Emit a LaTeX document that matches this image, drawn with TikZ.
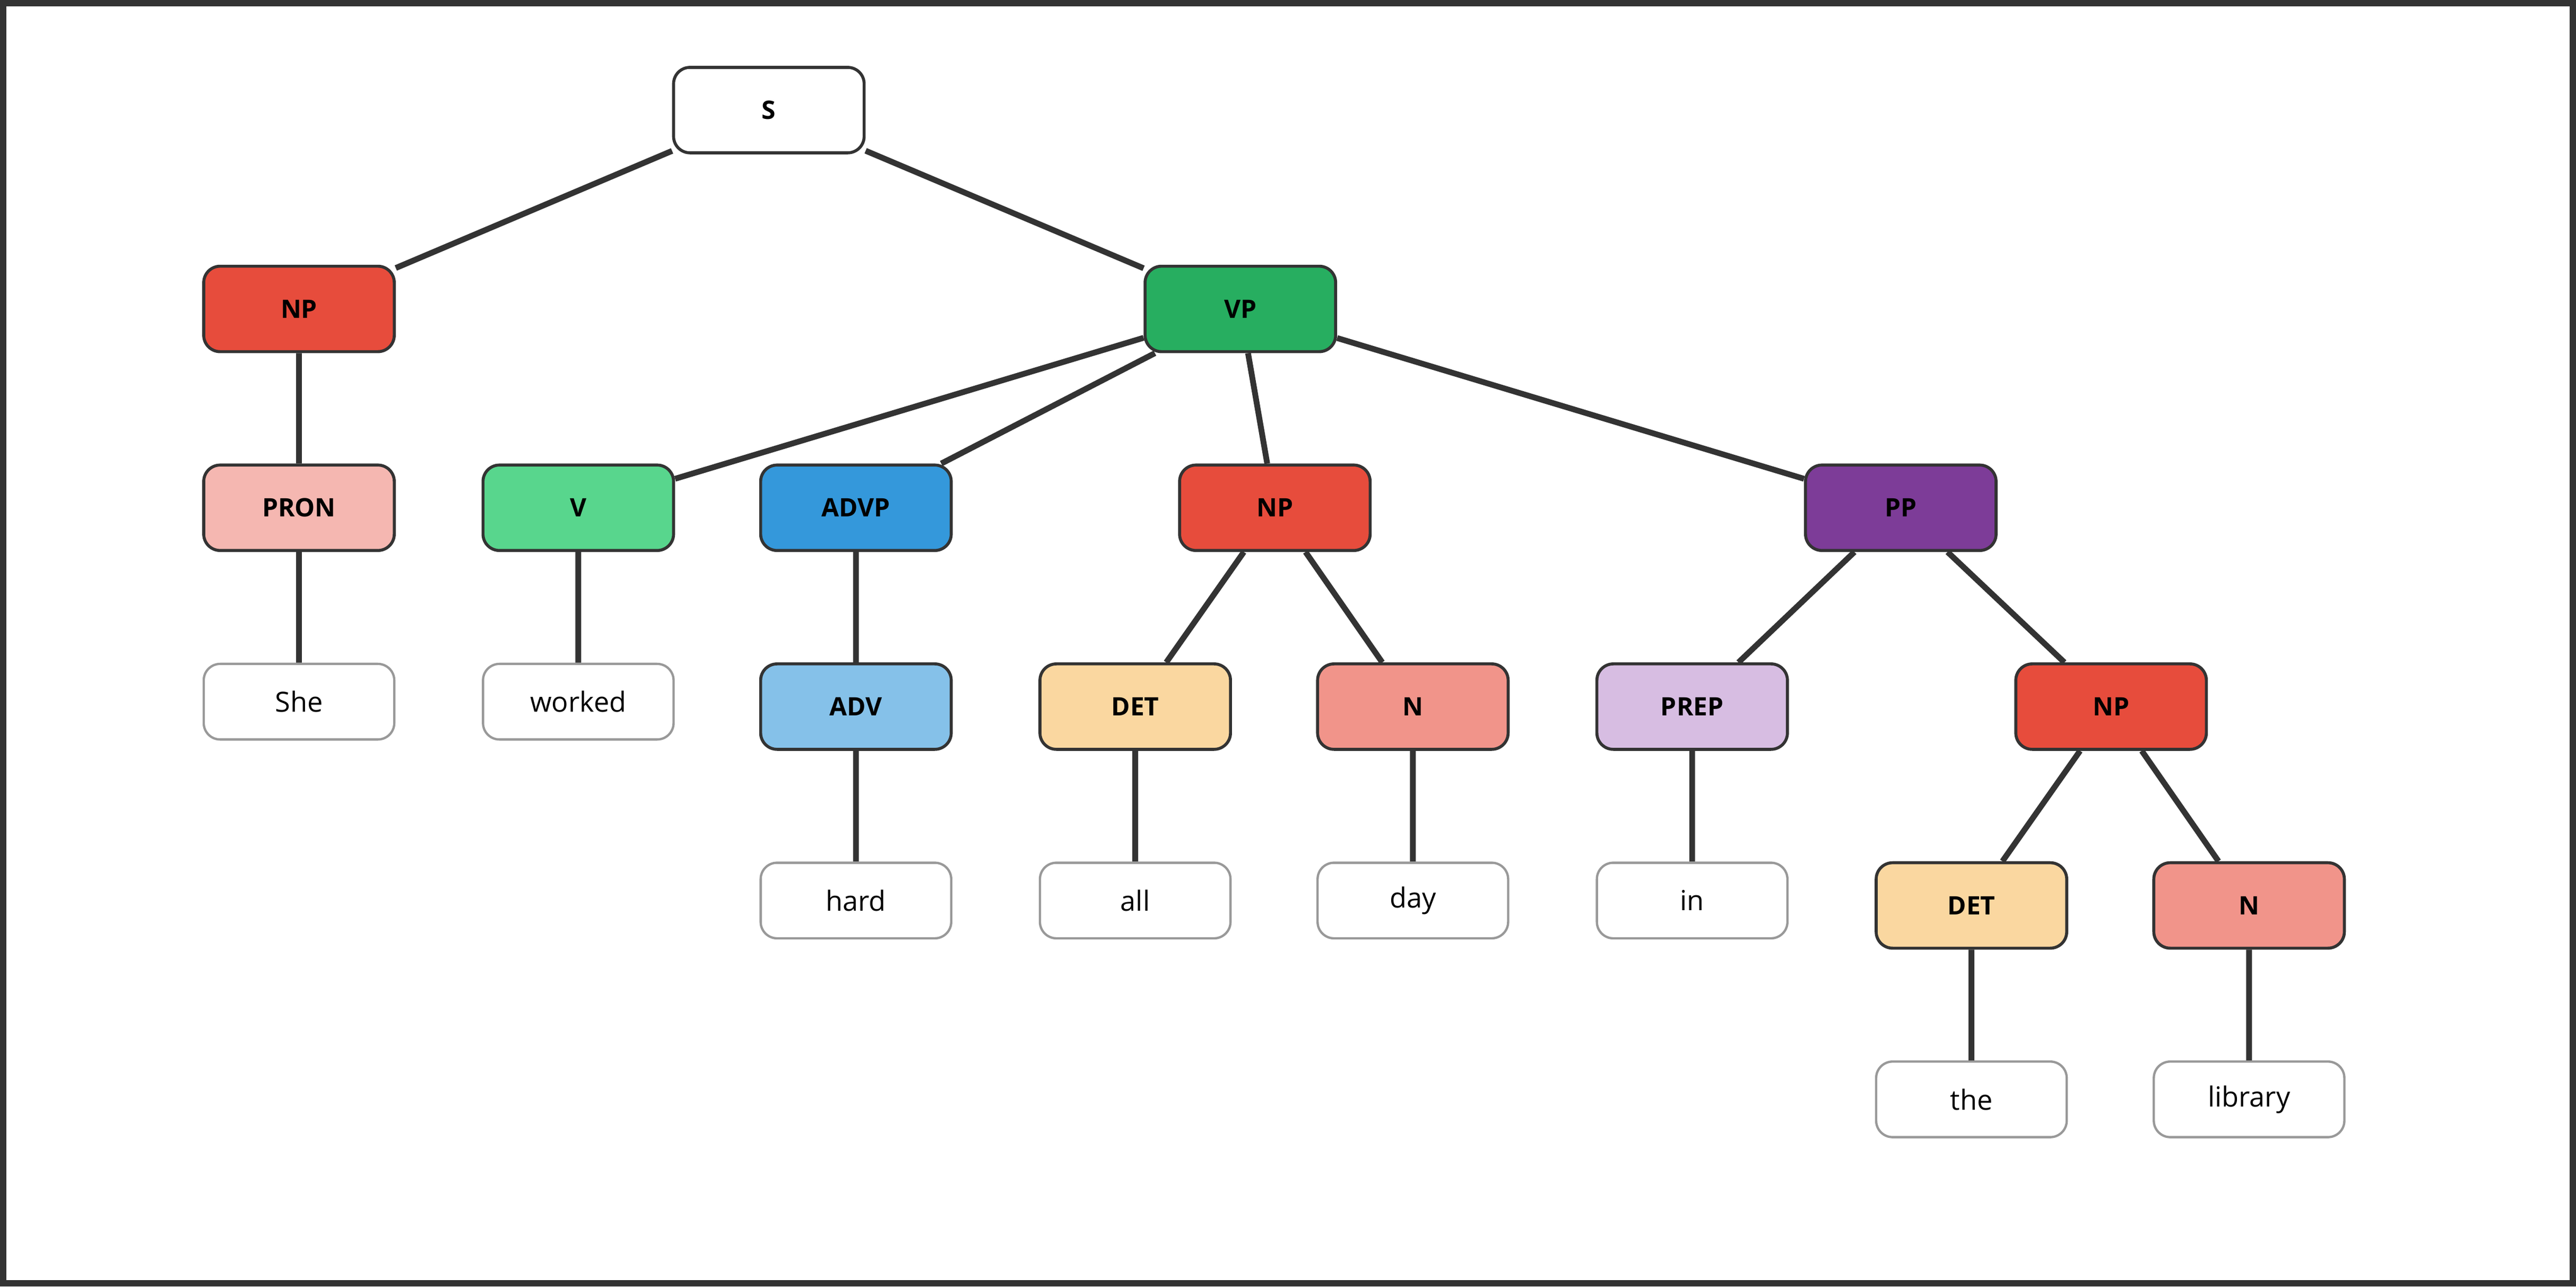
\documentclass[tikz,border=0pt]{standalone}
\usepackage{fontspec}
\setmainfont{Open Sans}
\begin{document}
\begin{tikzpicture}[x=0.05cm,y=-0.05cm,
 cat/.style={draw=black!80,line width=2.6pt,rounded corners=0.5cm,minimum width=5.8cm,minimum height=2.6cm,font=\fontsize{22}{26}\selectfont\bfseries,text=black},
 word/.style={draw=black!40,line width=2pt,rounded corners=0.5cm,minimum width=5.8cm,minimum height=2.3cm,font=\fontsize{24}{28}\selectfont,fill=white},
 edge/.style={draw=black!80,line width=5pt}]
\useasboundingbox (0,0) rectangle (1568,783);
\draw[black!80,line width=5.5pt] (2,2) rectangle (1566,781);
\definecolor{npc}{HTML}{E74C3C}\definecolor{vpc}{HTML}{27AE60}
\definecolor{pronc}{HTML}{F5B7B1}\definecolor{vc}{HTML}{58D68D}
\definecolor{advpc}{HTML}{3498DB}\definecolor{advc}{HTML}{85C1E9}
\definecolor{detc}{HTML}{FAD7A0}\definecolor{nc}{HTML}{F1948A}
\definecolor{prepc}{HTML}{D7BDE2}\definecolor{ppc}{HTML}{7D3C98}
\node[cat,fill=white] (s) at (468,67) {S};
\node[cat,fill=npc] (np1) at (182,188) {NP};
\node[cat,fill=vpc] (vp) at (755,188) {VP};
\node[cat,fill=pronc] (pron) at (182,309) {PRON};
\node[cat,fill=vc] (v) at (352,309) {V};
\node[cat,fill=advpc] (advp) at (521,309) {ADVP};
\node[cat,fill=npc] (np2) at (776,309) {NP};
\node[cat,fill=ppc] (pp) at (1157,309) {PP};
\node[word] (she) at (182,427) {She};
\node[word] (worked) at (352,427) {worked};
\node[cat,fill=advc] (adv) at (521,430) {ADV};
\node[cat,fill=detc] (det1) at (691,430) {DET};
\node[cat,fill=nc] (n1) at (860,430) {N};
\node[cat,fill=prepc] (prep) at (1030,430) {PREP};
\node[cat,fill=npc] (np3) at (1285,430) {NP};
\node[word] (hard) at (521,548) {hard};
\node[word] (all) at (691,548) {all};
\node[word] (day) at (860,548) {day};
\node[word] (in) at (1030,548) {in};
\node[cat,fill=detc] (det2) at (1200,551) {DET};
\node[cat,fill=nc] (n2) at (1369,551) {N};
\node[word] (the) at (1200,669) {the};
\node[word] (library) at (1369,669) {library};
\path[edge] (s)--(np1) (s)--(vp) (np1)--(pron) (pron)--(she)
 (vp)--(v) (vp)--(advp) (vp)--(np2) (vp)--(pp)
 (v)--(worked) (advp)--(adv) (adv)--(hard)
 (np2)--(det1) (np2)--(n1) (det1)--(all) (n1)--(day)
 (pp)--(prep) (pp)--(np3) (prep)--(in)
 (np3)--(det2) (np3)--(n2) (det2)--(the) (n2)--(library);
\end{tikzpicture}
\end{document}
